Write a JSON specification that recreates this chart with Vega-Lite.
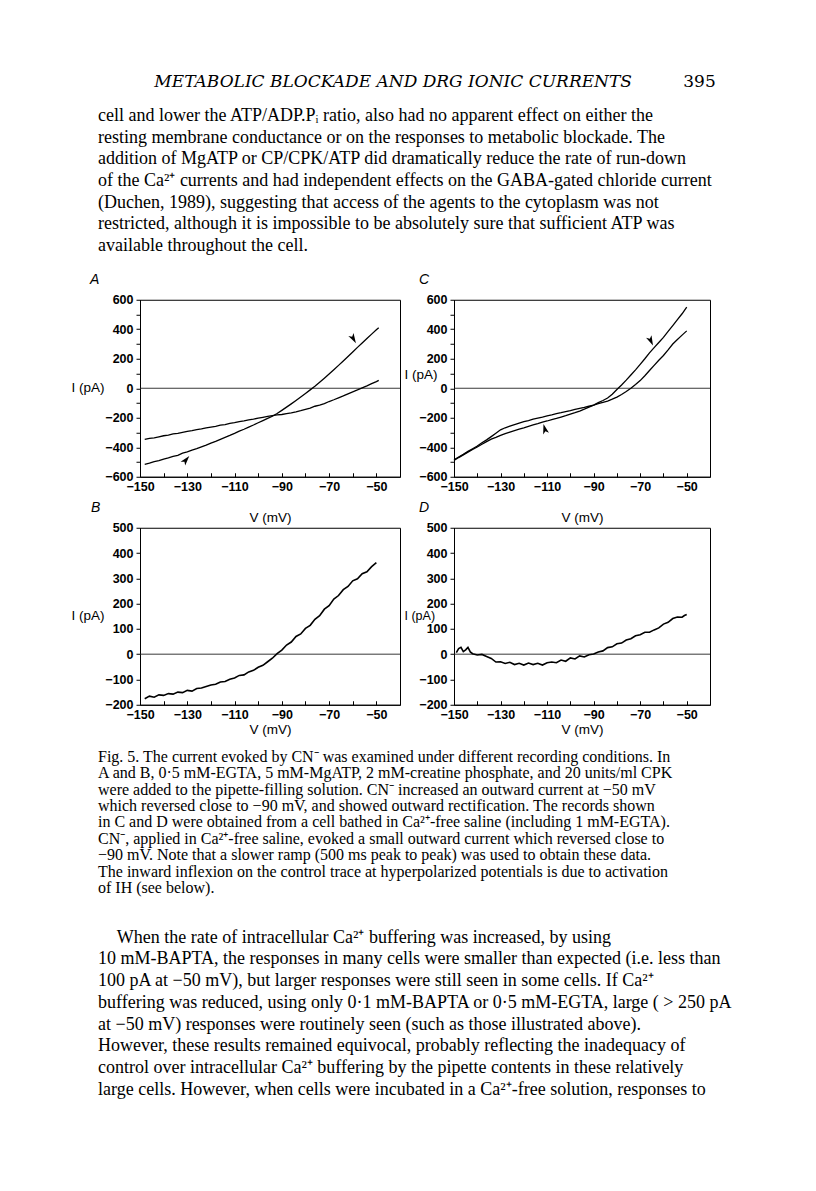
{
  "$schema": "https://vega.github.io/schema/vega-lite/v6.json",
  "background": "white",
  "padding": {"left": 70, "top": 61.75, "right": 70, "bottom": 80},
  "columns": 2,
  "spacing": {"row": 51, "column": 54},
  "bounds": "flush",
  "align": "each",
  "datasets": {
    "t1": [
      {"line": 0, "text": "cell and lower the ATP/ADP.Pᵢ ratio, also had no apparent effect on either the"},
      {"line": 1, "text": "resting membrane conductance or on the responses to metabolic blockade. The"},
      {"line": 2, "text": "addition of MgATP or CP/CPK/ATP did dramatically reduce the rate of run-down"},
      {"line": 3, "text": "of the Ca²⁺ currents and had independent effects on the GABA-gated chloride current"},
      {"line": 4, "text": "(Duchen, 1989), suggesting that access of the agents to the cytoplasm was not"},
      {"line": 5, "text": "restricted, although it is impossible to be absolutely sure that sufficient ATP was"},
      {"line": 6, "text": "available throughout the cell."}
    ],
    "cap": [
      {"line": 0, "text": "Fig. 5. The current evoked by CN⁻ was examined under different recording conditions. In"},
      {"line": 1, "text": "A and B, 0·5 mM-EGTA, 5 mM-MgATP, 2 mM-creatine phosphate, and 20 units/ml CPK"},
      {"line": 2, "text": "were added to the pipette-filling solution. CN⁻ increased an outward current at −50 mV"},
      {"line": 3, "text": "which reversed close to −90 mV, and showed outward rectification. The records shown"},
      {"line": 4, "text": "in C and D were obtained from a cell bathed in Ca²⁺-free saline (including 1 mM-EGTA)."},
      {"line": 5, "text": "CN⁻, applied in Ca²⁺-free saline, evoked a small outward current which reversed close to"},
      {"line": 6, "text": "−90 mV. Note that a slower ramp (500 ms peak to peak) was used to obtain these data."},
      {"line": 7, "text": "The inward inflexion on the control trace at hyperpolarized potentials is due to activation"},
      {"line": 8, "text": "of IH (see below)."}
    ],
    "p2": [
      {"line": 1, "text": "10 mM-BAPTA, the responses in many cells were smaller than expected (i.e. less than"},
      {"line": 2, "text": "100 pA at −50 mV), but larger responses were still seen in some cells. If Ca²⁺"},
      {"line": 3, "text": "buffering was reduced, using only 0·1 mM-BAPTA or 0·5 mM-EGTA, large ( > 250 pA"},
      {"line": 4, "text": "at −50 mV) responses were routinely seen (such as those illustrated above)."},
      {"line": 5, "text": "However, these results remained equivocal, probably reflecting the inadequacy of"},
      {"line": 6, "text": "control over intracellular Ca²⁺ buffering by the pipette contents in these relatively"},
      {"line": 7, "text": "large cells. However, when cells were incubated in a Ca²⁺-free solution, responses to"}
    ],
    "arrows": [
      {"panel": "A", "v": -59.7, "i": 335, "angle": 150},
      {"panel": "A", "v": -130.5, "i": -485, "angle": 40},
      {"panel": "C", "v": -65.4, "i": 320, "angle": 155},
      {"panel": "C", "v": -111, "i": -275, "angle": -15}
    ],
    "A": [
      {"v": -148, "i": -346, "t": "c"}, {"v": -146, "i": -340, "t": "c"}, {"v": -144, "i": -336, "t": "c"}, {"v": -142, "i": -329, "t": "c"},
      {"v": -140, "i": -322, "t": "c"}, {"v": -138, "i": -318, "t": "c"}, {"v": -136, "i": -310, "t": "c"}, {"v": -134, "i": -306, "t": "c"},
      {"v": -132, "i": -299, "t": "c"}, {"v": -130, "i": -293, "t": "c"}, {"v": -128, "i": -288, "t": "c"}, {"v": -126, "i": -281, "t": "c"},
      {"v": -124, "i": -276, "t": "c"}, {"v": -122, "i": -268, "t": "c"}, {"v": -120, "i": -263, "t": "c"}, {"v": -118, "i": -258, "t": "c"},
      {"v": -116, "i": -250, "t": "c"}, {"v": -114, "i": -246, "t": "c"}, {"v": -112, "i": -238, "t": "c"}, {"v": -110, "i": -233, "t": "c"},
      {"v": -108, "i": -226, "t": "c"}, {"v": -106, "i": -221, "t": "c"}, {"v": -104, "i": -214, "t": "c"}, {"v": -102, "i": -209, "t": "c"},
      {"v": -100, "i": -203, "t": "c"}, {"v": -98, "i": -197, "t": "c"}, {"v": -96, "i": -191, "t": "c"}, {"v": -94, "i": -186, "t": "c"},
      {"v": -92, "i": -181, "t": "c"}, {"v": -90, "i": -178, "t": "c"}, {"v": -88, "i": -172, "t": "c"}, {"v": -86, "i": -167, "t": "c"},
      {"v": -84, "i": -160, "t": "c"}, {"v": -82, "i": -152, "t": "c"}, {"v": -80, "i": -143, "t": "c"}, {"v": -78, "i": -134, "t": "c"},
      {"v": -76, "i": -122, "t": "c"}, {"v": -74, "i": -114, "t": "c"}, {"v": -72, "i": -104, "t": "c"}, {"v": -70, "i": -90, "t": "c"},
      {"v": -68, "i": -78, "t": "c"}, {"v": -66, "i": -65, "t": "c"}, {"v": -64, "i": -52, "t": "c"}, {"v": -62, "i": -38, "t": "c"},
      {"v": -60, "i": -24, "t": "c"}, {"v": -58, "i": -11, "t": "c"}, {"v": -56, "i": 3, "t": "c"}, {"v": -54, "i": 16, "t": "c"},
      {"v": -52, "i": 31, "t": "c"}, {"v": -50, "i": 45, "t": "c"}, {"v": -49, "i": 53, "t": "c"},
      {"v": -148, "i": -516, "t": "n"}, {"v": -146, "i": -508, "t": "n"}, {"v": -144, "i": -498, "t": "n"}, {"v": -142, "i": -491, "t": "n"},
      {"v": -140, "i": -480, "t": "n"}, {"v": -138, "i": -472, "t": "n"}, {"v": -136, "i": -462, "t": "n"}, {"v": -134, "i": -455, "t": "n"},
      {"v": -132, "i": -440, "t": "n"}, {"v": -130, "i": -432, "t": "n"}, {"v": -128, "i": -420, "t": "n"}, {"v": -126, "i": -410, "t": "n"},
      {"v": -124, "i": -397, "t": "n"}, {"v": -122, "i": -386, "t": "n"}, {"v": -120, "i": -372, "t": "n"}, {"v": -118, "i": -360, "t": "n"},
      {"v": -116, "i": -346, "t": "n"}, {"v": -114, "i": -333, "t": "n"}, {"v": -112, "i": -320, "t": "n"}, {"v": -110, "i": -306, "t": "n"},
      {"v": -108, "i": -291, "t": "n"}, {"v": -106, "i": -278, "t": "n"}, {"v": -104, "i": -263, "t": "n"}, {"v": -102, "i": -249, "t": "n"},
      {"v": -100, "i": -234, "t": "n"}, {"v": -98, "i": -219, "t": "n"}, {"v": -96, "i": -204, "t": "n"}, {"v": -94, "i": -190, "t": "n"},
      {"v": -92, "i": -171, "t": "n"}, {"v": -90, "i": -150, "t": "n"}, {"v": -88, "i": -128, "t": "n"}, {"v": -86, "i": -106, "t": "n"},
      {"v": -84, "i": -83, "t": "n"}, {"v": -82, "i": -59, "t": "n"}, {"v": -80, "i": -35, "t": "n"}, {"v": -78, "i": -11, "t": "n"},
      {"v": -76, "i": 13, "t": "n"}, {"v": -74, "i": 40, "t": "n"}, {"v": -72, "i": 68, "t": "n"}, {"v": -70, "i": 96, "t": "n"},
      {"v": -68, "i": 125, "t": "n"}, {"v": -66, "i": 155, "t": "n"}, {"v": -64, "i": 185, "t": "n"}, {"v": -62, "i": 215, "t": "n"},
      {"v": -60, "i": 246, "t": "n"}, {"v": -58, "i": 277, "t": "n"}, {"v": -56, "i": 307, "t": "n"}, {"v": -54, "i": 337, "t": "n"},
      {"v": -52, "i": 367, "t": "n"}, {"v": -50, "i": 396, "t": "n"}, {"v": -49, "i": 410, "t": "n"}
    ],
    "C": [
      {"v": -150, "i": -485, "t": "c"}, {"v": -148, "i": -466, "t": "c"}, {"v": -146, "i": -448, "t": "c"}, {"v": -144, "i": -428, "t": "c"},
      {"v": -142, "i": -410, "t": "c"}, {"v": -140, "i": -392, "t": "c"}, {"v": -138, "i": -370, "t": "c"}, {"v": -136, "i": -350, "t": "c"},
      {"v": -134, "i": -328, "t": "c"}, {"v": -132, "i": -305, "t": "c"}, {"v": -130, "i": -282, "t": "c"}, {"v": -128, "i": -268, "t": "c"},
      {"v": -126, "i": -257, "t": "c"}, {"v": -124, "i": -246, "t": "c"}, {"v": -122, "i": -236, "t": "c"}, {"v": -120, "i": -226, "t": "c"},
      {"v": -118, "i": -219, "t": "c"}, {"v": -116, "i": -210, "t": "c"}, {"v": -114, "i": -202, "t": "c"}, {"v": -112, "i": -195, "t": "c"},
      {"v": -110, "i": -187, "t": "c"}, {"v": -108, "i": -180, "t": "c"}, {"v": -106, "i": -172, "t": "c"}, {"v": -104, "i": -166, "t": "c"},
      {"v": -102, "i": -158, "t": "c"}, {"v": -100, "i": -152, "t": "c"}, {"v": -98, "i": -144, "t": "c"}, {"v": -96, "i": -136, "t": "c"},
      {"v": -94, "i": -130, "t": "c"}, {"v": -92, "i": -122, "t": "c"}, {"v": -90, "i": -114, "t": "c"}, {"v": -88, "i": -104, "t": "c"},
      {"v": -86, "i": -96, "t": "c"}, {"v": -84, "i": -87, "t": "c"}, {"v": -82, "i": -74, "t": "c"}, {"v": -80, "i": -60, "t": "c"},
      {"v": -78, "i": -42, "t": "c"}, {"v": -76, "i": -22, "t": "c"}, {"v": -74, "i": 0, "t": "c"}, {"v": -72, "i": 25, "t": "c"},
      {"v": -70, "i": 52, "t": "c"}, {"v": -68, "i": 85, "t": "c"}, {"v": -66, "i": 120, "t": "c"}, {"v": -64, "i": 155, "t": "c"},
      {"v": -62, "i": 190, "t": "c"}, {"v": -60, "i": 222, "t": "c"}, {"v": -58, "i": 260, "t": "c"}, {"v": -56, "i": 300, "t": "c"},
      {"v": -54, "i": 330, "t": "c"}, {"v": -52, "i": 360, "t": "c"}, {"v": -50, "i": 389, "t": "c"},
      {"v": -150, "i": -490, "t": "n"}, {"v": -148, "i": -470, "t": "n"}, {"v": -146, "i": -452, "t": "n"}, {"v": -144, "i": -433, "t": "n"},
      {"v": -142, "i": -415, "t": "n"}, {"v": -140, "i": -398, "t": "n"}, {"v": -138, "i": -380, "t": "n"}, {"v": -136, "i": -362, "t": "n"},
      {"v": -134, "i": -345, "t": "n"}, {"v": -132, "i": -333, "t": "n"}, {"v": -130, "i": -320, "t": "n"}, {"v": -128, "i": -308, "t": "n"},
      {"v": -126, "i": -297, "t": "n"}, {"v": -124, "i": -287, "t": "n"}, {"v": -122, "i": -277, "t": "n"}, {"v": -120, "i": -268, "t": "n"},
      {"v": -118, "i": -258, "t": "n"}, {"v": -116, "i": -249, "t": "n"}, {"v": -114, "i": -240, "t": "n"}, {"v": -112, "i": -230, "t": "n"},
      {"v": -110, "i": -222, "t": "n"}, {"v": -108, "i": -212, "t": "n"}, {"v": -106, "i": -204, "t": "n"}, {"v": -104, "i": -195, "t": "n"},
      {"v": -102, "i": -186, "t": "n"}, {"v": -100, "i": -176, "t": "n"}, {"v": -98, "i": -166, "t": "n"}, {"v": -96, "i": -155, "t": "n"},
      {"v": -94, "i": -142, "t": "n"}, {"v": -92, "i": -128, "t": "n"}, {"v": -90, "i": -114, "t": "n"}, {"v": -88, "i": -98, "t": "n"},
      {"v": -86, "i": -83, "t": "n"}, {"v": -84, "i": -66, "t": "n"}, {"v": -82, "i": -40, "t": "n"}, {"v": -80, "i": -8, "t": "n"},
      {"v": -78, "i": 22, "t": "n"}, {"v": -76, "i": 55, "t": "n"}, {"v": -74, "i": 90, "t": "n"}, {"v": -72, "i": 125, "t": "n"},
      {"v": -70, "i": 162, "t": "n"}, {"v": -68, "i": 200, "t": "n"}, {"v": -66, "i": 240, "t": "n"}, {"v": -64, "i": 275, "t": "n"},
      {"v": -62, "i": 310, "t": "n"}, {"v": -60, "i": 345, "t": "n"}, {"v": -58, "i": 385, "t": "n"}, {"v": -56, "i": 425, "t": "n"},
      {"v": -54, "i": 465, "t": "n"}, {"v": -52, "i": 505, "t": "n"}, {"v": -50, "i": 550, "t": "n"}
    ],
    "B": [
      {"v": -148, "i": -176}, {"v": -146, "i": -166}, {"v": -144, "i": -170}, {"v": -142, "i": -161}, {"v": -140, "i": -163},
      {"v": -138, "i": -156}, {"v": -136, "i": -158}, {"v": -134, "i": -150}, {"v": -132, "i": -152}, {"v": -130, "i": -143},
      {"v": -128, "i": -146}, {"v": -126, "i": -136}, {"v": -124, "i": -134}, {"v": -122, "i": -128}, {"v": -120, "i": -122},
      {"v": -118, "i": -119}, {"v": -116, "i": -110}, {"v": -114, "i": -108}, {"v": -112, "i": -99}, {"v": -110, "i": -94},
      {"v": -108, "i": -84}, {"v": -106, "i": -82}, {"v": -104, "i": -70}, {"v": -102, "i": -64}, {"v": -100, "i": -52},
      {"v": -98, "i": -44}, {"v": -96, "i": -30}, {"v": -94, "i": -16}, {"v": -92, "i": 2}, {"v": -90, "i": 16},
      {"v": -88, "i": 36}, {"v": -86, "i": 48}, {"v": -84, "i": 70}, {"v": -82, "i": 80}, {"v": -80, "i": 102},
      {"v": -78, "i": 114}, {"v": -76, "i": 138}, {"v": -74, "i": 152}, {"v": -72, "i": 178}, {"v": -70, "i": 192},
      {"v": -68, "i": 218}, {"v": -66, "i": 232}, {"v": -64, "i": 255}, {"v": -62, "i": 268}, {"v": -60, "i": 290},
      {"v": -58, "i": 298}, {"v": -56, "i": 318}, {"v": -54, "i": 326}, {"v": -52, "i": 346}, {"v": -50, "i": 362}
    ],
    "D": [
      {"v": -149, "i": 6}, {"v": -148, "i": 22}, {"v": -147, "i": 27}, {"v": -146, "i": 10}, {"v": -145, "i": 17},
      {"v": -144, "i": 27}, {"v": -143, "i": 9}, {"v": -142, "i": 2}, {"v": -140, "i": -3}, {"v": -138, "i": -1},
      {"v": -136, "i": -9}, {"v": -134, "i": -17}, {"v": -132, "i": -31}, {"v": -130, "i": -30}, {"v": -128, "i": -37},
      {"v": -126, "i": -32}, {"v": -124, "i": -41}, {"v": -122, "i": -36}, {"v": -120, "i": -43}, {"v": -118, "i": -35},
      {"v": -116, "i": -41}, {"v": -114, "i": -36}, {"v": -112, "i": -43}, {"v": -110, "i": -34}, {"v": -108, "i": -31},
      {"v": -106, "i": -34}, {"v": -104, "i": -23}, {"v": -102, "i": -28}, {"v": -100, "i": -15}, {"v": -98, "i": -19},
      {"v": -96, "i": -7}, {"v": -94, "i": -11}, {"v": -92, "i": -2}, {"v": -90, "i": 1}, {"v": -88, "i": 9},
      {"v": -86, "i": 13}, {"v": -84, "i": 26}, {"v": -82, "i": 29}, {"v": -80, "i": 41}, {"v": -78, "i": 44},
      {"v": -76, "i": 56}, {"v": -74, "i": 61}, {"v": -72, "i": 73}, {"v": -70, "i": 77}, {"v": -68, "i": 87},
      {"v": -66, "i": 87}, {"v": -64, "i": 96}, {"v": -62, "i": 104}, {"v": -60, "i": 119}, {"v": -58, "i": 126},
      {"v": -56, "i": 141}, {"v": -54, "i": 147}, {"v": -52, "i": 146}, {"v": -51, "i": 153}, {"v": -50, "i": 157}
    ]
  },
  "concat": [
    {
      "width": 260, "height": 186.25,
      "view": {"stroke": null},
      "layer": [
        {
          "data": {"name": "t1"},
          "mark": {"type": "text", "align": "left", "baseline": "middle", "font": "Liberation Serif", "fontSize": 18, "color": "black"},
          "encoding": {
            "x": {"datum": 0, "type": "quantitative", "scale": {"domain": [0, 1], "range": [-42, 582]}, "axis": null},
            "y": {"field": "line", "type": "quantitative", "scale": {"domain": [-2.5, 6.083], "reverse": true, "nice": false, "zero": false}, "axis": null},
            "text": {"field": "text"}
          }
        },
        {
          "data": {"values": [{"text": "METABOLIC BLOCKADE AND DRG IONIC CURRENTS"}]},
          "mark": {"type": "text", "align": "center", "baseline": "middle", "font": "DejaVu Serif", "fontStyle": "italic", "fontSize": 17, "color": "black"},
          "encoding": {
            "x": {"datum": 0.473, "type": "quantitative"},
            "y": {"datum": -1.567, "type": "quantitative"},
            "text": {"field": "text"}
          }
        }
      ]
    },
    {
      "width": 256, "height": 186.25,
      "view": {"stroke": null},
      "data": {"values": [{"text": "395"}]},
      "mark": {"type": "text", "align": "right", "baseline": "middle", "font": "DejaVu Serif", "fontSize": 17, "color": "black"},
      "encoding": {
        "x": {"datum": 0.99, "type": "quantitative", "scale": {"domain": [0, 1], "range": [-356, 268]}, "axis": null},
        "y": {"datum": -1.567, "type": "quantitative", "scale": {"domain": [-2.5, 6.083], "reverse": true, "nice": false, "zero": false}, "axis": null},
        "text": {"field": "text"}
      }
    },
    {
      "width": 260, "height": 177,
      "title": {"text": "A", "dx": -50, "offset": 7},
      "layer": [
        {
          "data": {"values": [{"z": 0}]},
          "mark": {"type": "rule", "color": "#222", "strokeWidth": 0.9},
          "encoding": {"y": {"field": "z", "type": "quantitative"}}
        },
        {
          "data": {"name": "A"},
          "mark": {"type": "line", "color": "black", "strokeWidth": 1.3},
          "encoding": {
            "x": {"field": "v", "type": "quantitative", "scale": {"domain": [-150, -40], "nice": false, "zero": false},
                  "axis": {"title": "V (mV)", "values": [-150, -140, -130, -120, -110, -100, -90, -80, -70, -60, -50, -40], "tickCount": 50, "labelExpr": "(datum.value + 150) % 20 === 0 ? datum.label : ''", "tickSize": -4, "labelPadding": 8, "labelFlush": false, "labelOverlap": false, "titleBaseline": "middle", "titleY": 41}},
            "y": {"field": "i", "type": "quantitative", "scale": {"domain": [-600, 600], "nice": false, "zero": false},
                  "axis": {"title": "I (pA)", "values": [-600, -500, -400, -300, -200, -100, 0, 100, 200, 300, 400, 500, 600], "tickCount": 50, "labelExpr": "datum.value % 200 === 0 ? datum.label : ''", "tickSize": 4, "labelPadding": 3, "labelOverlap": false, "titleAngle": 0, "titleAlign": "left", "titleBaseline": "middle", "titleX": -69, "titleY": 88}},
            "detail": {"field": "t"}
          }
        },
        {
          "data": {"name": "arrows"},
          "transform": [{"filter": "datum.panel === 'A'"}],
          "mark": {"type": "point", "shape": "M0,-1L0.6,1L0,0.5L-0.6,1Z", "filled": true, "color": "black", "opacity": 1, "size": 100},
          "encoding": {
            "x": {"field": "v", "type": "quantitative"},
            "y": {"field": "i", "type": "quantitative"},
            "angle": {"field": "angle", "type": "quantitative", "scale": null}
          }
        }
      ]
    },
    {
      "width": 256, "height": 177,
      "title": {"text": "C", "dx": -35, "offset": 7},
      "layer": [
        {
          "data": {"values": [{"z": 0}]},
          "mark": {"type": "rule", "color": "#222", "strokeWidth": 0.9},
          "encoding": {"y": {"field": "z", "type": "quantitative"}}
        },
        {
          "data": {"name": "C"},
          "mark": {"type": "line", "color": "black", "strokeWidth": 1.3},
          "encoding": {
            "x": {"field": "v", "type": "quantitative", "scale": {"domain": [-150, -40], "nice": false, "zero": false},
                  "axis": {"title": "V (mV)", "values": [-150, -140, -130, -120, -110, -100, -90, -80, -70, -60, -50, -40], "tickCount": 50, "labelExpr": "(datum.value + 150) % 20 === 0 ? datum.label : ''", "tickSize": -4, "labelPadding": 8, "labelFlush": false, "labelOverlap": false, "titleBaseline": "middle", "titleY": 41}},
            "y": {"field": "i", "type": "quantitative", "scale": {"domain": [-600, 600], "nice": false, "zero": false},
                  "axis": {"title": "I (pA)", "values": [-600, -500, -400, -300, -200, -100, 0, 100, 200, 300, 400, 500, 600], "tickCount": 50, "labelExpr": "datum.value % 200 === 0 ? datum.label : ''", "tickSize": 4, "labelPadding": 3, "labelOverlap": false, "titleAngle": 0, "titleAlign": "left", "titleBaseline": "middle", "titleX": -50, "titleY": 75}},
            "detail": {"field": "t"}
          }
        },
        {
          "data": {"name": "arrows"},
          "transform": [{"filter": "datum.panel === 'C'"}],
          "mark": {"type": "point", "shape": "M0,-1L0.6,1L0,0.5L-0.6,1Z", "filled": true, "color": "black", "opacity": 1, "size": 100},
          "encoding": {
            "x": {"field": "v", "type": "quantitative"},
            "y": {"field": "i", "type": "quantitative"},
            "angle": {"field": "angle", "type": "quantitative", "scale": null}
          }
        }
      ]
    },
    {
      "width": 260, "height": 177,
      "title": {"text": "B", "dx": -49, "offset": 7},
      "layer": [
        {
          "data": {"values": [{"z": 0}]},
          "mark": {"type": "rule", "color": "#222", "strokeWidth": 0.9},
          "encoding": {"y": {"field": "z", "type": "quantitative"}}
        },
        {
          "data": {"name": "B"},
          "mark": {"type": "line", "color": "black", "strokeWidth": 1.6},
          "encoding": {
            "x": {"field": "v", "type": "quantitative", "scale": {"domain": [-150, -40], "nice": false, "zero": false},
                  "axis": {"title": "V (mV)", "values": [-150, -140, -130, -120, -110, -100, -90, -80, -70, -60, -50, -40], "tickCount": 50, "labelExpr": "(datum.value + 150) % 20 === 0 ? datum.label : ''", "tickSize": -4, "labelPadding": 8, "labelFlush": false, "labelOverlap": false, "titleBaseline": "middle", "titleY": 25}},
            "y": {"field": "i", "type": "quantitative", "scale": {"domain": [-200, 500], "nice": false, "zero": false},
                  "axis": {"title": "I (pA)", "values": [-200, -100, 0, 100, 200, 300, 400, 500], "tickCount": 50, "tickSize": 4, "labelPadding": 3, "labelOverlap": false, "titleAngle": 0, "titleAlign": "left", "titleBaseline": "middle", "titleX": -69, "titleY": 88}}
          }
        }
      ]
    },
    {
      "width": 256, "height": 177,
      "title": {"text": "D", "dx": -35, "offset": 7},
      "layer": [
        {
          "data": {"values": [{"z": 0}]},
          "mark": {"type": "rule", "color": "#222", "strokeWidth": 0.9},
          "encoding": {"y": {"field": "z", "type": "quantitative"}}
        },
        {
          "data": {"name": "D"},
          "mark": {"type": "line", "color": "black", "strokeWidth": 1.6},
          "encoding": {
            "x": {"field": "v", "type": "quantitative", "scale": {"domain": [-150, -40], "nice": false, "zero": false},
                  "axis": {"title": "V (mV)", "values": [-150, -140, -130, -120, -110, -100, -90, -80, -70, -60, -50, -40], "tickCount": 50, "labelExpr": "(datum.value + 150) % 20 === 0 ? datum.label : ''", "tickSize": -4, "labelPadding": 8, "labelFlush": false, "labelOverlap": false, "titleBaseline": "middle", "titleY": 25}},
            "y": {"field": "i", "type": "quantitative", "scale": {"domain": [-200, 500], "nice": false, "zero": false},
                  "axis": {"title": "I (pA)", "titleFontSize": 12.5, "values": [-200, -100, 0, 100, 200, 300, 400, 500], "tickCount": 50, "tickSize": 4, "labelPadding": 3, "labelOverlap": false, "titleAngle": 0, "titleAlign": "left", "titleBaseline": "middle", "titleX": -50, "titleY": 87.5}}
          }
        }
      ]
    },
    {
      "width": 260, "height": 345,
      "view": {"stroke": null},
      "layer": [
        {
          "data": {"name": "cap"},
          "mark": {"type": "text", "align": "left", "baseline": "middle", "font": "Liberation Serif", "fontSize": 16, "color": "black"},
          "encoding": {
            "x": {"datum": 0, "type": "quantitative", "scale": {"domain": [0, 1], "range": [-42, 582]}, "axis": null},
            "y": {"field": "line", "type": "quantitative", "scale": {"domain": [-0.061, 20.976], "reverse": true, "nice": false, "zero": false}, "axis": null},
            "text": {"field": "text"}
          }
        },
        {
          "data": {"values": [{"line": 0, "text": "When the rate of intracellular Ca²⁺ buffering was increased, by using"}]},
          "mark": {"type": "text", "align": "left", "baseline": "middle", "font": "Liberation Serif", "fontSize": 18, "color": "black"},
          "encoding": {
            "x": {"datum": 0.03, "type": "quantitative"},
            "y": {"field": "line", "type": "quantitative", "scale": {"domain": [-8.387, 7.512], "reverse": true, "nice": false, "zero": false}, "axis": null},
            "text": {"field": "text"}
          }
        },
        {
          "data": {"name": "p2"},
          "mark": {"type": "text", "align": "left", "baseline": "middle", "font": "Liberation Serif", "fontSize": 18, "color": "black"},
          "encoding": {
            "x": {"datum": 0, "type": "quantitative"},
            "y": {"field": "line", "type": "quantitative", "scale": {"domain": [-8.387, 7.512], "reverse": true, "nice": false, "zero": false}, "axis": null},
            "text": {"field": "text"}
          }
        }
      ],
      "resolve": {"scale": {"y": "independent"}}
    }
  ],
  "config": {
    "view": {"stroke": "black", "strokeWidth": 1},
    "axis": {
      "grid": false, "domainColor": "black", "tickColor": "black", "labelColor": "black", "titleColor": "black",
      "labelFont": "Liberation Sans", "titleFont": "Liberation Sans", "labelFontSize": 12.5, "titleFontSize": 13.5,
      "labelFontWeight": "bold", "titleFontWeight": "normal", "domainWidth": 1, "tickWidth": 1
    },
    "title": {"font": "Liberation Sans", "fontStyle": "italic", "fontSize": 14, "fontWeight": "normal", "anchor": "start", "frame": "group", "color": "black"}
  }
}
